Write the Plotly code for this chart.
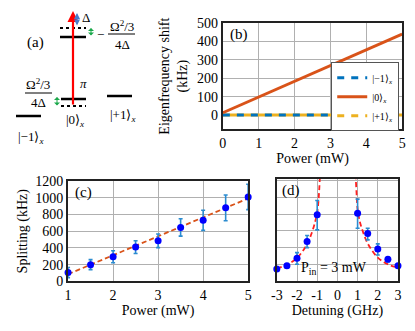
import plotly.graph_objects as go

# (b) eigenfrequency shift vs power
power_b = [0, 1, 2, 3, 4, 5]
shift_m1 = [0, 0, 0, 0, 0, 0]
shift_0 = [12, 98, 183, 269, 354, 440]
shift_p1 = [0, 0, 0, 0, 0, 0]

# (c) splitting vs power
power_c = [1, 1.5, 2, 2.5, 3, 3.5, 4, 4.5, 5]
splitting = [105, 200, 295, 410, 485, 645, 730, 880, 1010]
split_err = [60, 60, 72, 76, 82, 104, 120, 154, 152]
fit_c_x = [1, 5]
fit_c_y = [86, 992]

# (d) splitting vs detuning (arb. units)
detuning = [-3, -2.5, -2, -1.5, -1, 1, 1.5, 2, 2.5, 3]
split_d = [0.72, 0.92, 1.36, 2.36, 3.96, 4.06, 2.84, 1.92, 1.3, 0.92]
err_d_plus = [0.06, 0.1, 0.34, 0.36, 0.86, 0.84, 0.32, 0.3, 0.12, 0.06]
err_d_minus = [0.06, 0.12, 0.36, 0.36, 0.9, 0.9, 0.38, 0.36, 0.16, 0.06]
fit_d_left_x = [-3, -2.5, -2, -1.5, -1.25, -1.1, -1, -0.93, -0.86]
fit_d_left_y = [0.75, 0.98, 1.38, 2.2, 2.95, 3.55, 4.1, 4.9, 6.4]
fit_d_right_x = [0.9, 0.96, 1, 1.1, 1.25, 1.5, 2, 2.5, 3]
fit_d_right_y = [6.4, 5.0, 4.3, 3.6, 3.0, 2.25, 1.4, 1.0, 0.8]

x_ticks_d = [-3, -2, -1, 0, 1, 2, 3]
x_text_d = ["-3", "-2", "-1", "0", "1", "2", "3"]

SERIF = "Liberation Serif, Times New Roman, serif"
BLUE = "#0072BD"
ORANGE = "#D95319"
YELLOW = "#EDB120"
GRID = "#b0b0b0"
FRAME = "#222"
W, H = 415, 331

fig = go.Figure()

# ---- panel (b)
fig.add_trace(go.Scatter(x=power_b, y=shift_p1, mode="lines", showlegend=False,
                         line=dict(color=YELLOW, width=3), xaxis="x", yaxis="y"))
fig.add_trace(go.Scatter(x=power_b, y=shift_m1, mode="lines", name="|\u22121\u27e9<sub><i>x</i></sub>",
                         line=dict(color=BLUE, width=3, dash="7px,7px"), xaxis="x", yaxis="y"))
fig.add_trace(go.Scatter(x=power_b, y=shift_0, mode="lines", name="|0\u27e9<sub><i>x</i></sub>",
                         line=dict(color=ORANGE, width=3), xaxis="x", yaxis="y"))
# legend entry for the yellow dashed line
fig.add_trace(go.Scatter(x=[None], y=[None], mode="lines", name="|+1\u27e9<sub><i>x</i></sub>",
                         line=dict(color=YELLOW, width=3, dash="7px,7px"), xaxis="x", yaxis="y"))

# ---- panel (c)
fig.add_trace(go.Scatter(x=fit_c_x, y=fit_c_y, mode="lines", showlegend=False,
                         line=dict(color=ORANGE, width=1.8, dash="5px,3px"), xaxis="x2", yaxis="y2"))
fig.add_trace(go.Scatter(x=power_c, y=splitting, mode="markers", showlegend=False, cliponaxis=False,
                         marker=dict(color="#0000ff", size=7),
                         error_y=dict(type="data", array=split_err, color="#2b8cd0", thickness=1.6, width=2),
                         xaxis="x2", yaxis="y2"))

# ---- panel (d)
for fx, fy in [(fit_d_left_x, fit_d_left_y), (fit_d_right_x, fit_d_right_y)]:
    fig.add_trace(go.Scatter(x=fx, y=fy, mode="lines", showlegend=False, line_shape="spline",
                             line=dict(color="#ff2020", width=1.8, dash="5px,3px"), xaxis="x3", yaxis="y3"))
fig.add_trace(go.Scatter(x=detuning, y=split_d, mode="markers", showlegend=False, cliponaxis=False,
                         marker=dict(color="#0000ff", size=7),
                         error_y=dict(type="data", array=err_d_plus, arrayminus=err_d_minus,
                                      color="#2b8cd0", thickness=1.6, width=2),
                         xaxis="x3", yaxis="y3"))

axis_common = dict(showline=True, mirror=True, linecolor=FRAME, linewidth=2, showgrid=True,
                   gridcolor=GRID, gridwidth=1, zeroline=False, ticks="", automargin=False,
                   tickfont=dict(family=SERIF, size=14, color="black"))
title_font = dict(family=SERIF, size=14, color="black")

fig.update_layout(
    width=W, height=H, margin=dict(l=0, r=0, t=0, b=0, autoexpand=False),
    plot_bgcolor="white", paper_bgcolor="white",
    font=dict(family=SERIF, color="black"),
    xaxis=dict(axis_common, domain=[0.537, 0.969], range=[0, 5], dtick=1,
               title=dict(text="Power (mW)", font=title_font, standoff=2), anchor="y"),
    yaxis=dict(axis_common, domain=[0.610, 0.930], range=[-77, 500], dtick=100,
               title=dict(text="Eigenfrequency shift<br>(kHz)", font=title_font, standoff=6), anchor="x"),
    xaxis2=dict(axis_common, domain=[0.164, 0.598], range=[1, 5], dtick=1,
                title=dict(text="Power (mW)", font=title_font, standoff=2), anchor="y2"),
    yaxis2=dict(axis_common, domain=[0.150, 0.453], range=[0, 1200], dtick=200,
                title=dict(text="Splitting (kHz)", font=title_font, standoff=4), anchor="x2"),
    xaxis3=dict(axis_common, domain=[0.667, 0.959], range=[-3, 3], tickvals=x_ticks_d, ticktext=x_text_d,
                title=dict(text="Detuning (GHz)", font=title_font, standoff=2), anchor="y3"),
    yaxis3=dict(axis_common, domain=[0.151, 0.459], range=[0, 6.1], dtick=1, showticklabels=False,
                anchor="x3"),
    legend=dict(x=0.962, y=0.812, xanchor="right", yanchor="top", bgcolor="white",
                bordercolor="#555", borderwidth=1, font=dict(family=SERIF, size=10),
                tracegroupgap=0, itemwidth=30),
)

# panel labels
for txt, xr, yr in [("(b)", "x", "y"), ("(c)", "x2", "y2"), ("(d)", "x3", "y3")]:
    fig.add_annotation(text=txt, xref=f"{xr} domain", yref=f"{yr} domain", x=0.03, y=0.99,
                       xanchor="left", yanchor="top", showarrow=False,
                       font=dict(family=SERIF, size=15, color="black"))
fig.add_annotation(text="P<sub>in</sub> = 3 mW", xref="x3", yref="y3", x=-0.15, y=0.72,
                   showarrow=False, font=dict(family=SERIF, size=14, color="black"))

# ---- panel (a): energy level diagram, placed in paper space (pixel positions converted)
def px(x):
    return x / W

def py(y):
    return 1 - y / H

levels = [  # (x0, x1, y, dash)
    (60, 86, 28, "dot"), (60, 86, 37, "solid"),
    (61, 86, 99, "solid"), (61, 86, 106, "dot"),
    (107, 132, 96, "solid"), (16, 41, 116, "solid"),
]
for x0, x1, y, dash in levels:
    fig.add_shape(type="line", xref="paper", yref="paper", x0=px(x0), x1=px(x1), y0=py(y), y1=py(y),
                  line=dict(color="black", width=2.5 if dash == "solid" else 2, dash=dash))

# fraction bars
for x0, x1, y in [(108, 135, 34), (25, 52, 93)]:
    fig.add_shape(type="line", xref="paper", yref="paper", x0=px(x0), x1=px(x1), y0=py(y), y1=py(y),
                  line=dict(color="black", width=1))

def arrow(x, y0, y1, color, width, both=False, size=1.0, head=2):
    fig.add_annotation(xref="paper", yref="paper", x=px(x), y=py(y1), ax=0, ay=y0 - y1,
                       text="", showarrow=True, arrowhead=head, arrowsize=size, arrowwidth=width,
                       arrowcolor=color, startarrowhead=head, startarrowsize=size,
                       arrowside="end+start" if both else "end")

arrow(73, 106, 11, "#ff0000", 2.2)
arrow(77, 27, 13, "#4a7cc9", 1.2, both=True)
arrow(91, 37, 28, "#1aa84a", 1, both=True, size=1, head=1)
arrow(57, 107, 97, "#1aa84a", 1, both=True, size=1, head=1)

def label(text, x, y, size=13):
    fig.add_annotation(text=text, xref="paper", yref="paper", x=px(x), y=py(y), showarrow=False,
                       xanchor="center", yanchor="middle",
                       font=dict(family=SERIF, size=size, color="black"))

label("(a)", 35, 42, size=15)
label("\u0394", 86, 18)
label("\u2212", 100, 34)
label("\u03a9<sup>2</sup>/3", 122, 26)
label("4\u0394", 122, 44)
label("<i>\u03c0</i>", 83, 83)
label("\u03a9<sup>2</sup>/3", 38, 84)
label("4\u0394", 38, 102)
label("|0\u27e9<sub><i>x</i></sub>", 75, 121)
label("|+1\u27e9<sub><i>x</i></sub>", 122, 115)
label("|\u22121\u27e9<sub><i>x</i></sub>", 30, 137)

# the page's default body margin would shift the figure by 8px
fig.write_html("out.html", config={"displayModeBar": False},
               post_script="document.body.style.margin='0';")
